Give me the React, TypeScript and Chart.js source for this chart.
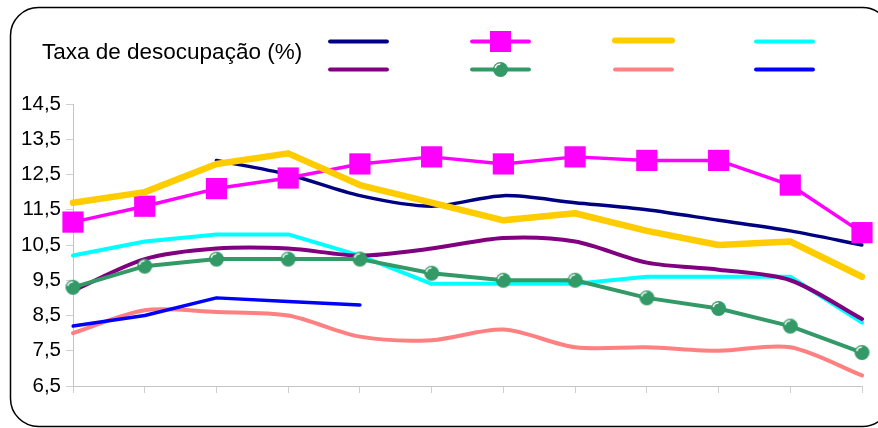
import React, { useEffect, useRef } from "react";
import { Chart, registerables } from "chart.js";

Chart.register(...registerables);

const months = ["jan", "fev", "mar", "abr", "mai", "jun", "jul", "ago", "set", "out", "nov", "dez"];
const yTicks = [6.5, 7.5, 8.5, 9.5, 10.5, 11.5, 12.5, 13.5, 14.5];
const titleText = "Taxa de desocupação (%)";

const s2002 = [null, null, 12.9, 12.5, 11.9, 11.6, 11.9, 11.7, 11.5, 11.2, 10.9, 10.5];
const s2003 = [11.15, 11.6, 12.1, 12.4, 12.8, 13.0, 12.8, 13.0, 12.9, 12.9, 12.2, 10.85];
const s2004 = [11.7, 12.0, 12.8, 13.1, 12.2, 11.7, 11.2, 11.4, 10.9, 10.5, 10.6, 9.6];
const s2005 = [10.2, 10.6, 10.8, 10.8, 10.2, 9.4, 9.4, 9.4, 9.6, 9.6, 9.6, 8.3];
const s2006 = [9.2, 10.1, 10.4, 10.4, 10.2, 10.4, 10.7, 10.6, 10.0, 9.8, 9.5, 8.4];
const s2007 = [9.3, 9.9, 10.1, 10.1, 10.1, 9.7, 9.5, 9.5, 9.0, 8.7, 8.2, 7.45];
const s2008 = [8.0, 8.65, 8.6, 8.5, 7.9, 7.8, 8.1, 7.6, 7.6, 7.5, 7.6, 6.8];
const s2009 = [8.2, 8.5, 9.0, 8.9, 8.8, null, null, null, null, null, null, null];

const FONT = "'Liberation Sans', Arial, Helvetica, sans-serif";

function makeBall(r: number): HTMLCanvasElement {
  const c = document.createElement("canvas");
  const size = Math.ceil(2 * r + 2);
  c.width = size;
  c.height = size;
  const g = c.getContext("2d")!;
  const cx = size / 2;
  g.beginPath();
  g.arc(cx, cx, r, 0, Math.PI * 2);
  g.fillStyle = "#339966";
  g.fill();
  g.beginPath();
  g.arc(cx - r * 0.1, cx - r * 0.1, r * 0.6, Math.PI * 1.05, Math.PI * 1.55);
  g.strokeStyle = "#ffffff";
  g.lineWidth = 1.6;
  g.stroke();
  return c;
}

export default function App() {
  const ref = useRef<HTMLCanvasElement | null>(null);

  useEffect(() => {
    if (!ref.current) return;
    const ball = makeBall(7.5);

    const base = (label: string, data: (number | null)[], color: string, width: number, tension: number) => ({
      label,
      data,
      borderColor: color,
      backgroundColor: color,
      borderWidth: width,
      tension,
      pointRadius: 0,
      borderCapStyle: "round" as const,
      borderJoinStyle: "round" as const,
      spanGaps: false,
    });

    const datasets: any[] = [
      { ...base("2002", s2002, "#000080", 3.5, 0.3), order: 8 },
      {
        ...base("2003", s2003, "#FF00FF", 3.5, 0),
        pointStyle: "rect",
        pointRadius: 15,
        pointBorderWidth: 0,
        pointBackgroundColor: "#FF00FF",
        order: 7,
      },
      { ...base("2004", s2004, "#FFCC00", 6.5, 0), order: 6 },
      { ...base("2005", s2005, "#00FFFF", 4, 0), order: 5 },
      { ...base("2006", s2006, "#800080", 4, 0.3), order: 4 },
      {
        ...base("2007", s2007, "#339966", 4, 0),
        pointStyle: ball,
        pointRadius: 7.5,
        order: 3,
      },
      { ...base("2008", s2008, "#FF8080", 4, 0.3), order: 2 },
      { ...base("2009", s2009, "#0000FF", 3.5, 0), order: 1 },
    ];

    const frame = {
      id: "frame",
      beforeDraw(chart: any) {
        const ctx = chart.ctx;
        ctx.save();
        ctx.fillStyle = "#ffffff";
        ctx.fillRect(0, 0, chart.width, chart.height);
        ctx.beginPath();
        ctx.roundRect(10.5, 7.5, 880, 419, 28);
        ctx.strokeStyle = "#000000";
        ctx.lineWidth = 1.5;
        ctx.stroke();
        ctx.fillStyle = "#000000";
        ctx.font = `22.5px ${FONT}`;
        ctx.textBaseline = "alphabetic";
        ctx.textAlign = "left";
        ctx.fillText(titleText, 42, 58.5);
        ctx.restore();
      },
      afterDraw(chart: any) {
        const ctx = chart.ctx;
        const slots = [
          [330, 41.5],
          [472, 41.5],
          [615, 40.5],
          [756, 41.5],
          [330, 69.5],
          [472, 69.5],
          [615, 69.5],
          [756, 69.5],
        ];
        chart.data.datasets.forEach((ds: any, i: number) => {
          const [x, y] = slots[i];
          ctx.save();
          ctx.beginPath();
          ctx.moveTo(x, y);
          ctx.lineTo(x + 57, y);
          ctx.strokeStyle = ds.borderColor;
          ctx.lineWidth = i === 2 ? 6 : 3.8;
          ctx.lineCap = "round";
          ctx.stroke();
          if (ds.pointStyle === "rect") {
            ctx.fillStyle = ds.borderColor;
            ctx.fillRect(x + 28.5 - 10.5, y - 10.5, 21, 21);
          } else if (ds.pointStyle && typeof ds.pointStyle !== "string") {
            const img = ds.pointStyle as HTMLCanvasElement;
            ctx.drawImage(img, x + 28.5 - img.width / 2, y - img.height / 2);
          }
          ctx.restore();
        });
      },
    };

    const chart = new Chart(ref.current, {
      type: "line",
      data: { labels: months, datasets },
      options: {
        animation: false,
        responsive: false,
        events: [],
        layout: { padding: { top: 104, right: 16, bottom: 0, left: 0 } },
        plugins: {
          legend: { display: false },
          title: { display: false },
          tooltip: { enabled: false },
        },
        scales: {
          x: {
            type: "category",
            offset: false,
            grid: {
              display: true,
              drawOnChartArea: false,
              drawTicks: true,
              tickLength: 7,
              color: "#cfcfcf",
            },
            border: { display: true, color: "#c4c4c4", width: 1 },
            ticks: { callback: () => "", autoSkip: false, maxRotation: 0 },
            afterFit: (s: any) => {
              s.height = 42;
            },
          },
          y: {
            min: 6.5,
            max: 14.5,
            afterBuildTicks: (s: any) => {
              s.ticks = yTicks.map((v) => ({ value: v }));
            },
            ticks: {
              stepSize: 1,
              color: "#000000",
              padding: 5,
              font: { family: FONT, size: 20.5 },
              callback: (v: any) => Number(v).toFixed(1).replace(".", ","),
            },
            grid: {
              display: true,
              drawOnChartArea: false,
              drawTicks: true,
              tickLength: 7,
              color: "#cfcfcf",
            },
            border: { display: true, color: "#c4c4c4", width: 1 },
            afterFit: (s: any) => {
              s.width = 73;
            },
          },
        },
      },
      plugins: [frame],
    });

    return () => chart.destroy();
  }, []);

  return (
    <div style={{ position: "absolute", left: 0, top: 0, width: 878, height: 428 }}>
      <canvas ref={ref} width={878} height={428} style={{ display: "block", width: 878, height: 428 }} />
    </div>
  );
}
